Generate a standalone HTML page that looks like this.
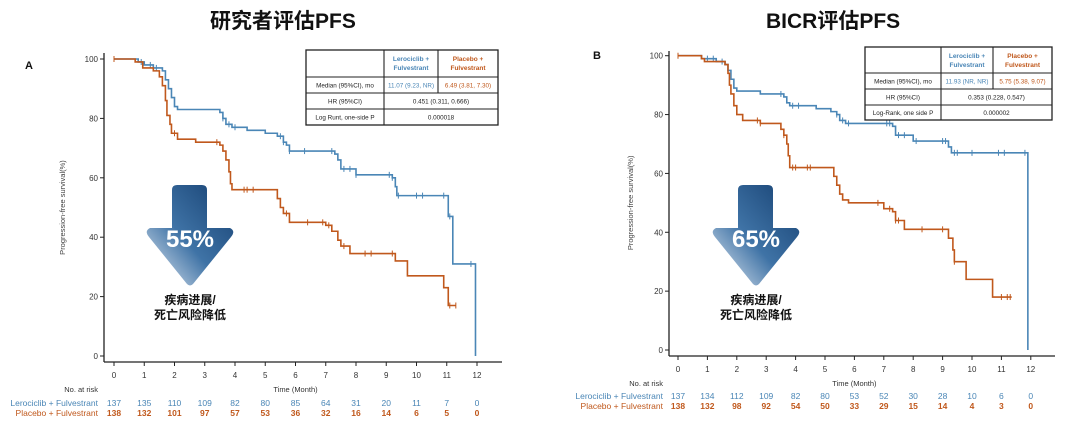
<!DOCTYPE html>
<html><head><meta charset="utf-8">
<style>
body{margin:0;background:#fff;}
#c{position:relative;width:1080px;height:428px;overflow:hidden;background:#fff;font-family:"Liberation Sans","Noto Sans CJK SC",sans-serif;}
.t{position:absolute;font-weight:bold;font-size:21px;color:#111;font-family:"Liberation Sans","Noto Sans CJK SC",sans-serif;}
</style></head><body>
<div id="c">
<div class="t" style="left:210px;top:5px;">研究者评估PFS</div>
<div class="t" style="left:766px;top:5px;">BICR评估PFS</div>
<svg id="s" width="1080" height="428" style="position:absolute;left:0;top:0" font-family="Liberation Sans, Noto Sans CJK SC, sans-serif">
<defs>
<linearGradient id="g" x1="0" y1="1" x2="1" y2="0">
<stop offset="0" stop-color="#e8eef5"/><stop offset="0.45" stop-color="#3f73a6"/><stop offset="1" stop-color="#153f70"/>
</linearGradient>
</defs>
</svg>
</div>
<script>
const S=document.getElementById('s');const NS='http://www.w3.org/2000/svg';
function el(t,a,txt){const e=document.createElementNS(NS,t);for(const k in a)e.setAttribute(k,a[k]);if(txt!==undefined)e.textContent=txt;S.appendChild(e);return e;}
const B='#4a86b6',O='#c0581c';
function panel(P){
 const X=m=>P.x0+m*P.mx, Y=v=>P.y0+(100-v)*(P.y100-P.y0)/-100*-1;
 const yv=v=>P.y0-(v/100)*(P.y0-P.y100);
 // axes
 el('line',{x1:P.ax,y1:P.atop,x2:P.ax,y2:P.abot,stroke:'#222','stroke-width':1.3});
 el('line',{x1:P.ax,y1:P.abot,x2:P.aright,y2:P.abot,stroke:'#222','stroke-width':1.3});
 for(let v=0;v<=100;v+=20){el('line',{x1:P.ax-4,y1:yv(v),x2:P.ax,y2:yv(v),stroke:'#222'});
  el('text',{x:P.ax-6,y:yv(v)+3,'font-size':8,'text-anchor':'end',fill:'#333'},v);}
 for(let m=0;m<=12;m++){el('line',{x1:X(m),y1:P.abot,x2:X(m),y2:P.abot+4,stroke:'#222'});
  el('text',{x:X(m),y:P.tky,'font-size':8,'text-anchor':'middle',fill:'#333'},m);}
 el('text',{x:X(6),y:P.tky+14,'font-size':7.5,'text-anchor':'middle',fill:'#333'},'Time (Month)');
 el('text',{x:P.lblx,y:P.tky+14,'font-size':7.5,'text-anchor':'end',fill:'#333'},'No. at risk');
 const yl=(P.y0+P.y100)/2;
 el('text',{x:P.ylx,y:yl,'font-size':7.5,'text-anchor':'middle',fill:'#444',transform:`rotate(-90 ${P.ylx} ${yl})`},'Progression-free survival(%)');
 el('text',{x:P.lblx,y:P.r1,'font-size':8.5,'text-anchor':'end',fill:B},'Lerociclib + Fulvestrant');
 el('text',{x:P.lblx,y:P.r2,'font-size':8.5,'text-anchor':'end',fill:O},'Placebo + Fulvestrant');
 P.rb.forEach((n,i)=>el('text',{x:X(i),y:P.r1,'font-size':8.5,'text-anchor':'middle',fill:B},n));
 P.ro.forEach((n,i)=>el('text',{x:X(i),y:P.r2,'font-size':8.5,'text-anchor':'middle','font-weight':'bold',fill:O},n));
 el('text',{x:P.lx,y:P.ly,'font-size':11,'font-weight':'bold',fill:'#111'},P.letter);
 // curves
 function curve(d,end,col,cens){let s=`M${X(0)},${yv(100)}`;let cur=100;
  d.forEach(([m,v])=>{s+=`H${X(m)}V${yv(v)}`;cur=v;});s+=`H${X(end)}`;if(P.dropB&&col===B)s+=`V${yv(0)}`;
  el('path',{d:s,fill:'none',stroke:col,'stroke-width':1.6});
  cens.forEach(m=>{let v=100;d.forEach(([mm,vv])=>{if(mm<=m)v=vv;});el('line',{x1:X(m),y1:yv(v)-3,x2:X(m),y2:yv(v)+3,stroke:col,'stroke-width':1});});
 }
 curve(P.bd,P.bend,B,P.bc);curve(P.od,P.oend,O,P.oc);
 // arrow
 const a=P.ar;const cx=(a.x1+a.x2)/2;
 el('path',{d:`M${a.s1+5},${a.y1} H${a.s2-5} Q${a.s2},${a.y1} ${a.s2},${a.y1+5} V${a.h} H${a.x2-4} Q${a.x2+2},${a.h+3} ${a.x2-3},${a.h+9} L${cx+3},${a.y2-2} Q${cx},${a.y2+1} ${cx-3},${a.y2-2} L${a.x1+3},${a.h+9} Q${a.x1-2},${a.h+3} ${a.x1+4},${a.h} H${a.s1} V${a.y1+5} Q${a.s1},${a.y1} ${a.s1+5},${a.y1}Z`,fill:'url(#g)'});
 el('text',{x:cx,y:a.h+19,'font-size':24,'font-weight':'bold','text-anchor':'middle',fill:'#fff'},P.pct);
 el('text',{x:cx,y:a.y2+18,'font-size':12,'font-weight':'bold','text-anchor':'middle',fill:'#111'},'疾病进展/');
 el('text',{x:cx,y:a.y2+33,'font-size':12,'font-weight':'bold','text-anchor':'middle',fill:'#111'},'死亡风险降低');
 // table
 const T=P.tb;
 el('rect',{x:T.c[0],y:T.r[0],width:T.c[3]-T.c[0],height:T.r[4]-T.r[0],fill:'#fff',stroke:'#222','stroke-width':1.3});
 for(let i=1;i<4;i++)el('line',{x1:T.c[0],y1:T.r[i],x2:T.c[3],y2:T.r[i],stroke:'#222','stroke-width':1.1});
 el('line',{x1:T.c[1],y1:T.r[0],x2:T.c[1],y2:T.r[4],stroke:'#222','stroke-width':1.1});
 el('line',{x1:T.c[2],y1:T.r[0],x2:T.c[2],y2:T.r[2],stroke:'#222','stroke-width':1.1});
 const mc=(i)=>(T.c[i]+T.c[i+1])/2, mr=(j)=>(T.r[j]+T.r[j+1])/2+2.5;
 el('text',{x:mc(1),y:T.r[0]+11,'font-size':6.5,'font-weight':'bold','text-anchor':'middle',fill:B},'Lerociclib +');
 el('text',{x:mc(1),y:T.r[0]+20,'font-size':6.5,'font-weight':'bold','text-anchor':'middle',fill:B},'Fulvestrant');
 el('text',{x:mc(2),y:T.r[0]+11,'font-size':6.5,'font-weight':'bold','text-anchor':'middle',fill:O},'Placebo +');
 el('text',{x:mc(2),y:T.r[0]+20,'font-size':6.5,'font-weight':'bold','text-anchor':'middle',fill:O},'Fulvestrant');
 el('text',{x:mc(0),y:mr(1),'font-size':6.3,'text-anchor':'middle',fill:'#222'},'Median (95%CI), mo');
 el('text',{x:mc(1),y:mr(1),'font-size':6.3,'text-anchor':'middle',fill:B},T.mb);
 el('text',{x:mc(2),y:mr(1),'font-size':6.3,'text-anchor':'middle',fill:O},T.mo);
 el('text',{x:mc(0),y:mr(2),'font-size':6.3,'text-anchor':'middle',fill:'#222'},'HR (95%CI)');
 el('text',{x:(T.c[1]+T.c[3])/2,y:mr(2),'font-size':6.3,'text-anchor':'middle',fill:'#222'},T.hr);
 el('text',{x:mc(0),y:mr(3),'font-size':6.3,'text-anchor':'middle',fill:'#222'},T.lr);
 el('text',{x:(T.c[1]+T.c[3])/2,y:mr(3),'font-size':6.3,'text-anchor':'middle',fill:'#222'},T.p);
}
panel({x0:114,mx:30.25,y0:356,y100:59,ax:104,atop:53,abot:362,aright:502,tky:378,lblx:98,r1:406,r2:416,ylx:65,lx:25,ly:69,letter:'A',dropB:true,pct:'55%',
 rb:[137,135,110,109,82,80,85,64,31,20,11,7,0],ro:[138,132,101,97,57,53,36,32,16,14,6,5,0],
 bd:[[0.8,99],[1.0,98],[1.3,97],[1.6,96],[1.7,93],[1.8,90],[1.9,87],[2.0,84],[2.1,83],[3.5,82],[3.6,80],[3.7,78],[3.9,77],[4.4,76],[5.0,75],[5.4,74],[5.6,72],[5.7,71],[5.8,69],[7.3,68],[7.4,66],[7.5,63],[8.0,61],[9.2,60],[9.3,57],[9.35,54],[11.05,47],[11.2,31]],bend:11.95,
 bc:[0.9,1.2,1.4,3.6,3.8,4.0,5.5,5.6,5.8,6.3,7.2,7.6,7.8,8.0,9.1,9.2,9.4,10.0,10.2,10.9,11.1,11.8],
 od:[[0.7,99],[0.95,97],[1.3,96],[1.5,94],[1.6,91],[1.7,86],[1.75,81],[1.85,78],[1.9,75],[2.1,73],[2.7,72],[3.5,71],[3.6,69],[3.7,66],[3.8,62],[3.85,58],[3.9,56],[5.4,53],[5.5,50],[5.6,48],[5.8,45],[7.0,44],[7.2,42],[7.4,39],[7.5,37],[7.8,34.5],[9.3,32],[9.7,27],[10.9,23],[11.05,17]],oend:11.3,
 oc:[0,2.0,3.4,4.3,4.4,4.6,5.7,6.4,6.9,7.1,7.6,8.3,8.5,9.2,11.1,11.3],
 ar:{x1:146,x2:234,s1:172,s2:207,y1:185,h:228,y2:286},
 tb:{c:[306,384,438,498],r:[50,77,93,109,125],mb:'11.07 (9.23, NR)',mo:'6.49 (3.81, 7.30)',hr:'0.451 (0.311, 0.666)',lr:'Log Runt, one-side P',p:'0.000018'}});
panel({x0:678,mx:29.4,y0:350,y100:55.7,ax:669,atop:51,abot:356,aright:1055,tky:372,lblx:663,r1:399,r2:409,ylx:633,lx:593,ly:59,letter:'B',dropB:true,pct:'65%',
 rb:[137,134,112,109,82,80,53,52,30,28,10,6,0],ro:[138,132,98,92,54,50,33,29,15,14,4,3,0],
 bd:[[0.8,99],[1.3,98],[1.6,97],[1.7,95],[1.8,92],[1.9,89],[2.0,88],[2.8,87],[3.6,86],[3.7,84],[3.8,83],[4.7,82],[5.2,81],[5.4,80],[5.5,78],[5.7,77],[7.3,76],[7.4,73],[8.0,71],[9.2,69],[9.3,67]],bend:11.9,
 bc:[1.0,1.2,1.5,3.5,3.9,4.1,5.4,5.6,5.8,7.1,7.2,7.5,7.7,8.1,9.0,9.1,9.4,9.5,10.0,10.9,11.1,11.8],
 od:[[0.8,99],[0.9,98],[1.6,97],[1.7,94],[1.75,90],[1.8,87],[1.9,83],[2.0,80],[2.2,78],[2.8,77],[3.5,75],[3.6,73],[3.7,70],[3.75,66],[3.8,62],[5.3,59],[5.4,56],[5.5,53],[5.6,51],[5.8,50],[7.0,48],[7.3,47],[7.4,44],[7.7,41],[9.2,38],[9.35,34],[9.4,30],[9.8,24],[10.7,18]],oend:11.35,
 oc:[0,2.7,2.8,3.6,3.9,4.0,4.4,4.5,6.8,7.2,7.4,7.5,8.3,9.0,9.4,11.0,11.2,11.3],
 ar:{x1:712,x2:800,s1:738,s2:773,y1:185,h:228,y2:286},
 tb:{c:[865,941,993,1052],r:[47,73,89,105,120],mb:'11.93 (NR, NR)',mo:'5.75 (5.38, 9.07)',hr:'0.353 (0.228, 0.547)',lr:'Log-Rank, one side P',p:'0.000002'}});
</script>
</body></html>
